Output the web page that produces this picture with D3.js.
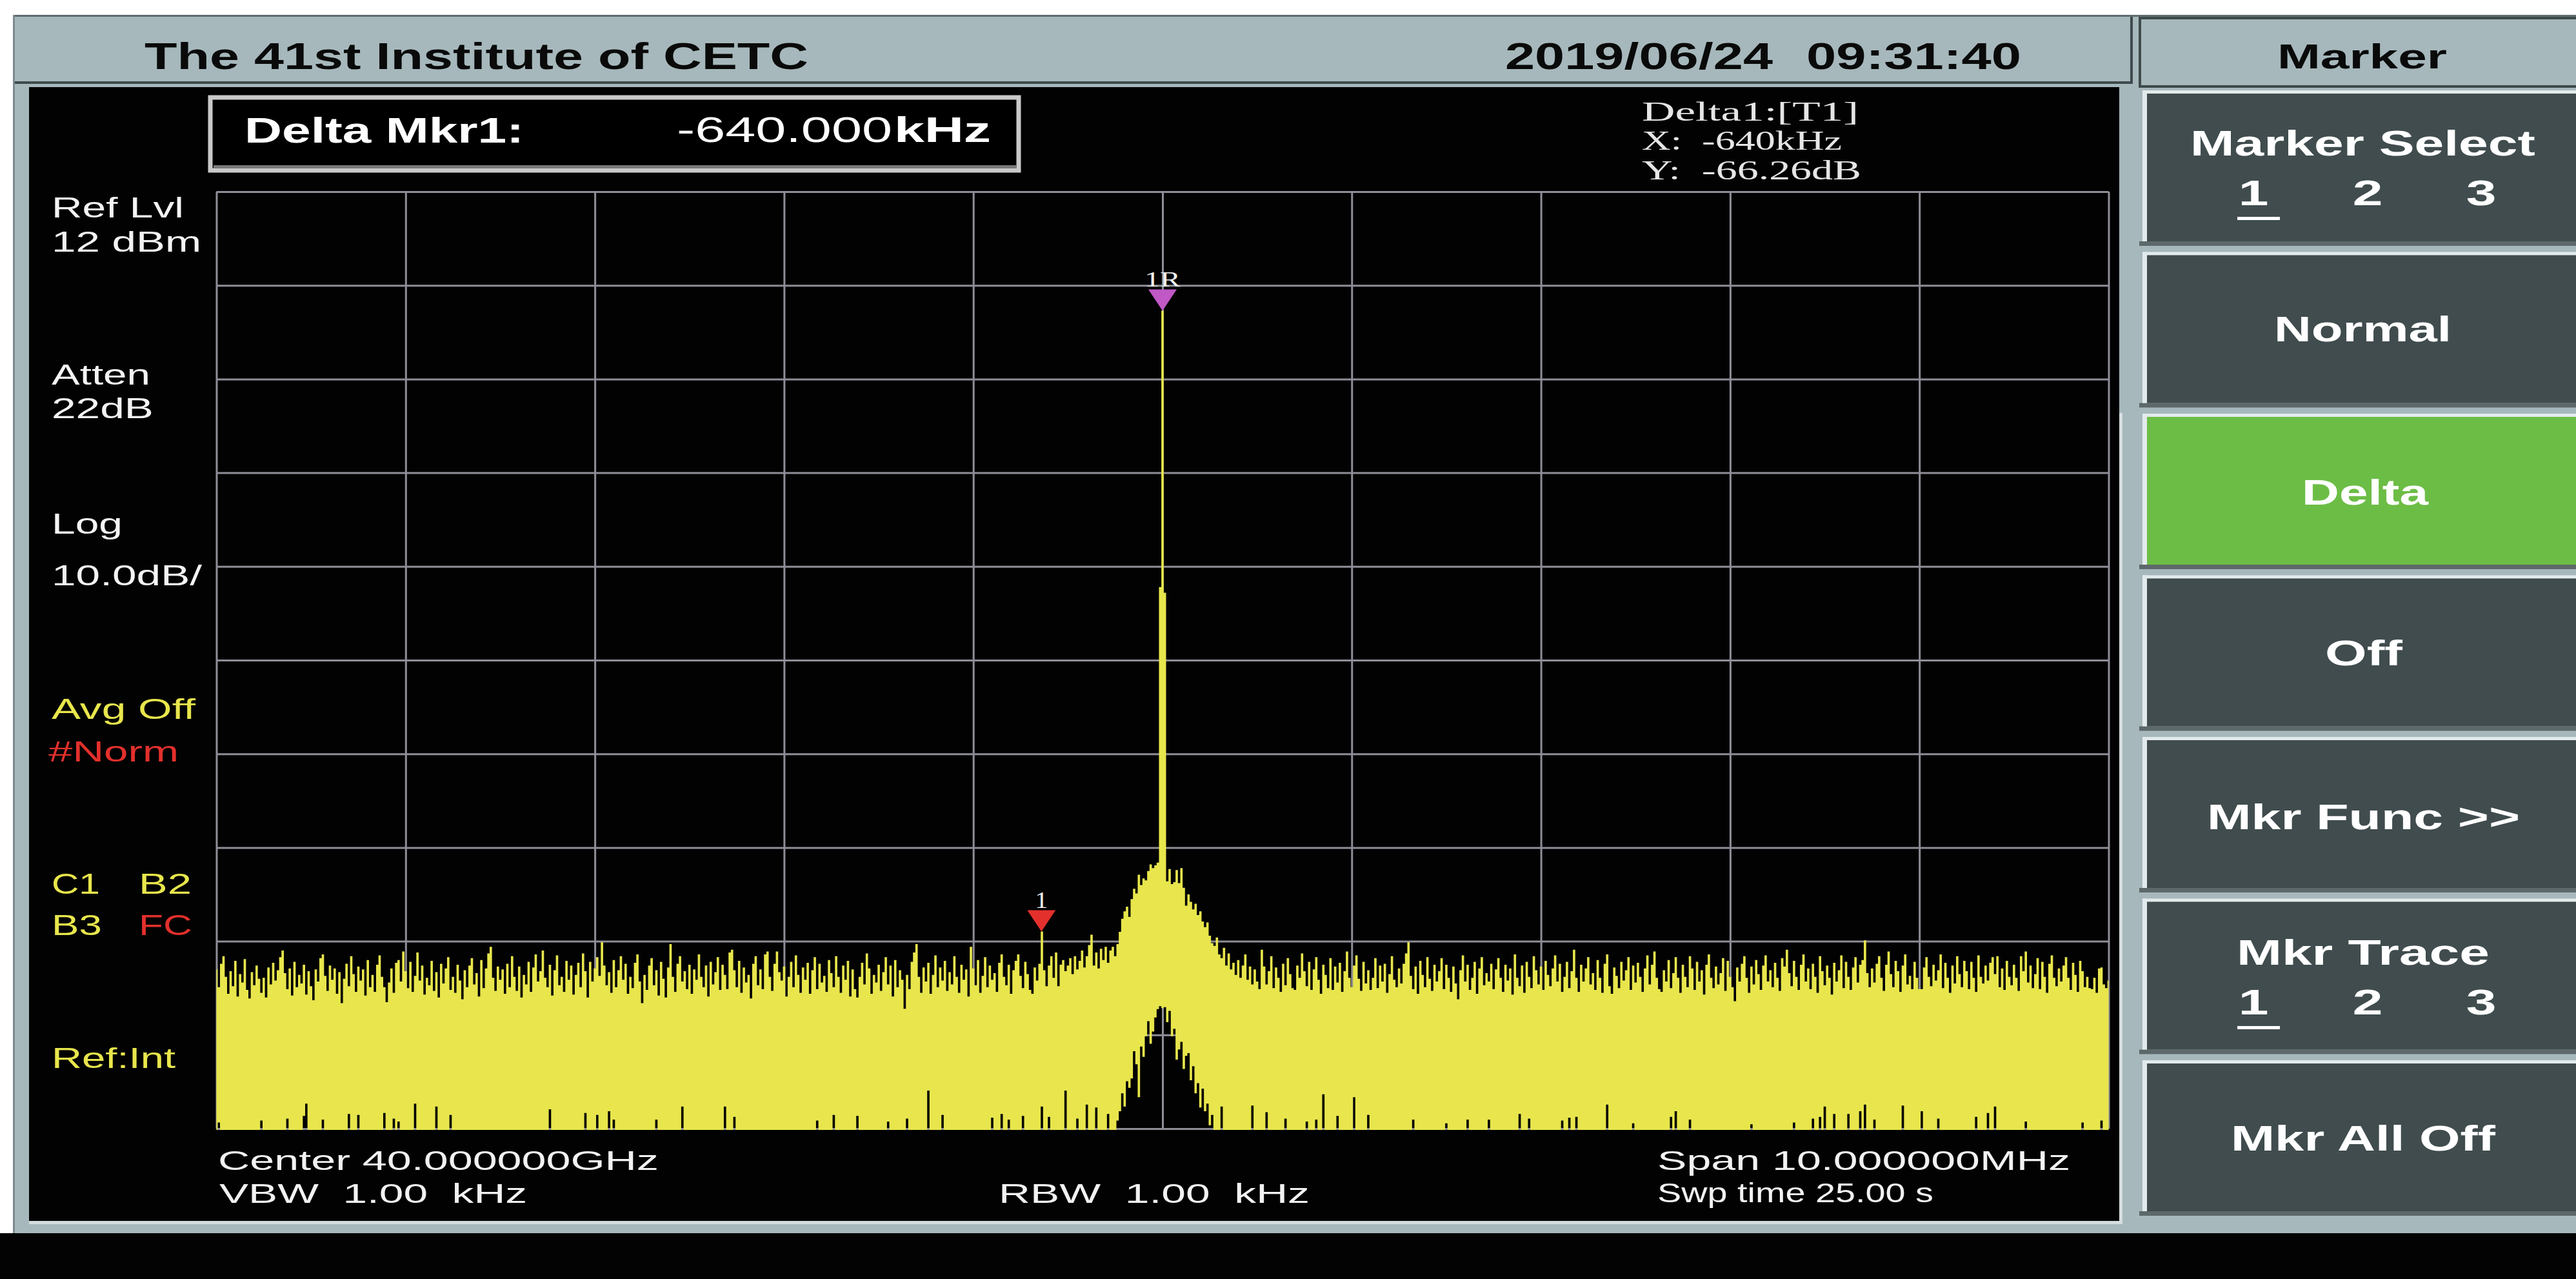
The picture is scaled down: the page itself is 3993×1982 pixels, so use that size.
<!DOCTYPE html>
<html><head><meta charset="utf-8">
<script src="https://cdn.jsdelivr.net/npm/d3@7/dist/d3.min.js"></script>
<style>html,body{margin:0;padding:0;background:#fff;overflow:hidden}svg{display:block}</style>
</head><body>
<svg id="chart" width="3993" height="1982"></svg>
<script>
// ---------------- DATA ----------------
const instrumentTitle = "The 41st Institute of CETC";
const dateStamp = "2019/06/24";
const timeStamp = "09:31:40";
const menuTitle = "Marker";
const softkeyLabels = ["Marker Select", "Normal", "Delta", "Off", "Mkr Func >>", "Mkr Trace", "Mkr All Off"];
const softkeyChoices = [["1", "2", "3"], null, null, null, null, ["1", "2", "3"], null];
const activeSoftkey = 2;
const deltaLabel = "Delta Mkr1:";
const deltaValue = "-640.000";
const deltaUnit = "kHz";
const readoutLines = ["Delta1:[T1]", "X:  -640kHz", "Y:  -66.26dB"];
const leftInfo = ["Ref Lvl", "12 dBm", "Atten", "22dB", "Log", "10.0dB/", "Avg Off", "#Norm", "C1", "B2", "B3", "FC", "Ref:Int"];
const bottomInfo = ["Center 40.000000GHz", "VBW  1.00  kHz", "RBW  1.00  kHz", "Span 10.000000MHz", "Swp time 25.00 s"];

const startFreqMHz = -5, stopFreqMHz = 5;
const refLevelDbm = 12, dbPerDiv = 10, numDivs = 10;

// trace maximum per display point (dBm), 801 points over the span
const traceMaxDbm = [
-71.0,-72.9,-70.4,-69.6,-71.8,-73.6,-71.2,-72.8,-70.1,-73.9,-71.5,-72.4,-69.9,-73.2,-74.1,-71.3,-72.7,-70.6,-72.0,-73.5,
-71.9,-74.0,-70.8,-72.6,-70.3,-72.2,-71.1,-69.7,-69.0,-71.4,-73.1,-70.9,-73.8,-70.2,-72.9,-71.6,-72.5,-70.5,-73.7,-71.2,
-72.8,-74.3,-71.0,-72.3,-69.8,-69.4,-71.7,-73.3,-70.6,-72.1,-70.9,-73.6,-71.3,-74.6,-72.0,-70.4,-72.8,-69.6,-71.5,-73.4,
-70.7,-72.2,-71.0,-73.8,-70.0,-72.9,-71.6,-73.4,-70.5,-69.5,-71.8,-72.9,-74.5,-72.4,-70.9,-73.5,-70.3,-70.0,-72.3,-69.1,
-71.2,-73.0,-70.2,-73.4,-71.7,-69.2,-72.2,-70.6,-73.7,-71.9,-72.7,-70.1,-73.3,-71.3,-74.0,-70.4,-72.5,-70.9,-69.7,-73.2,
-71.8,-73.5,-70.5,-72.2,-74.2,-71.1,-72.9,-70.6,-69.8,-72.6,-71.4,-73.9,-70.0,-73.0,-70.9,-69.3,-68.6,-71.9,-73.3,-70.7,
-72.1,-71.0,-73.6,-70.4,-72.9,-69.6,-71.8,-73.3,-70.7,-74.0,-71.6,-72.6,-70.2,-73.4,-70.8,-69.4,-72.3,-71.2,-69.0,-71.9,
-72.9,-70.5,-73.8,-71.1,-69.5,-72.7,-71.8,-73.4,-70.1,-72.1,-70.6,-73.7,-71.6,-70.3,-72.9,-69.3,-71.2,-74.0,-70.2,-72.3,
-70.9,-69.7,-71.7,-68.1,-70.6,-72.7,-71.3,-73.5,-70.0,-72.9,-71.1,-69.6,-72.1,-70.4,-73.6,-71.8,-73.0,-70.3,-69.4,-72.3,
-74.6,-71.6,-73.2,-70.6,-69.8,-72.7,-71.1,-73.8,-70.2,-72.0,-74.0,-70.8,-68.3,-71.8,-73.4,-70.4,-69.6,-72.3,-71.2,-73.1,
-70.5,-73.6,-71.0,-72.1,-69.4,-71.8,-72.9,-70.6,-73.9,-70.2,-72.6,-71.3,-69.7,-73.2,-70.5,-71.6,-73.1,-69.2,-68.9,-71.1,
-72.9,-70.1,-73.5,-70.8,-72.4,-71.6,-74.1,-70.4,-69.6,-72.7,-71.0,-73.1,-69.4,-69.1,-71.8,-73.3,-70.4,-69.1,-71.3,-72.2,
-70.7,-73.9,-71.8,-70.2,-72.9,-69.5,-71.6,-73.5,-70.8,-72.1,-70.3,-73.6,-71.1,-69.7,-73.1,-70.4,-72.4,-71.7,-73.4,-70.0,
-71.4,-72.9,-69.6,-71.8,-73.5,-70.6,-72.1,-70.1,-73.9,-71.0,-73.1,-74.0,-71.8,-70.3,-72.6,-69.3,-70.9,-73.6,-71.6,-72.4,
-70.5,-73.3,-71.3,-69.7,-72.6,-70.6,-73.9,-70.0,-72.9,-71.1,-72.1,-75.2,-71.6,-73.1,-70.2,-69.2,-68.3,-71.8,-73.5,-70.8,
-72.3,-70.3,-73.6,-71.6,-69.5,-72.9,-70.8,-72.2,-70.1,-73.3,-71.3,-72.6,-69.6,-71.8,-73.5,-70.5,-72.1,-71.0,-73.9,-68.6,
-70.9,-72.7,-70.0,-73.5,-71.7,-69.7,-72.9,-70.6,-72.1,-71.4,-73.4,-70.3,-69.4,-71.8,-72.7,-70.5,-73.6,-71.1,-70.1,-69.4,
-71.7,-73.0,-70.2,-71.5,-73.2,-73.6,-70.8,-72.2,-70.4,-66.96,-71.1,-72.8,-70.6,-69.6,-71.9,-69.2,-72.8,-70.5,-70.0,-71.2,
-70.6,-69.8,-71.5,-69.6,-71.0,-70.1,-69.0,-70.8,-69.6,-68.4,-67.3,-70.6,-69.2,-70.9,-68.8,-70.0,-68.6,-70.3,-69.0,-68.6,
-69.6,-68.3,-67.0,-65.6,-64.8,-64.3,-65.4,-63.5,-62.4,-62.9,-60.9,-62.0,-61.3,-61.5,-60.5,-59.8,-60.2,-59.9,-59.6,-30.2,
-0.7,-30.8,-61.6,-60.3,-61.9,-61.7,-60.4,-61.8,-60.2,-62.3,-64.2,-63.0,-63.8,-64.6,-64.0,-65.2,-64.8,-65.9,-66.5,-66.0,
-67.4,-68.2,-68.5,-67.6,-69.4,-69.8,-68.7,-70.6,-69.3,-71.0,-70.3,-71.6,-70.0,-71.9,-70.6,-69.4,-72.1,-70.7,-72.6,-71.0,
-72.3,-73.1,-68.9,-70.7,-72.6,-71.2,-69.6,-73.0,-70.8,-71.9,-73.4,-70.4,-72.7,-69.8,-71.5,-73.0,-73.2,-70.6,-71.9,-69.3,
-71.2,-72.8,-70.2,-73.2,-71.0,-69.7,-72.1,-73.6,-70.5,-71.6,-73.0,-69.8,-73.2,-70.7,-72.4,-70.3,-73.4,-71.2,-69.1,-71.9,
-72.9,-70.6,-69.5,-72.0,-73.3,-70.2,-72.5,-71.1,-73.2,-71.9,-69.8,-73.0,-70.6,-72.3,-70.4,-73.5,-71.5,-69.6,-72.1,-72.9,
-70.9,-72.5,-70.4,-69.3,-68.1,-71.7,-73.1,-70.7,-73.6,-70.1,-71.6,-72.9,-69.7,-72.0,-73.3,-70.5,-72.3,-71.2,-69.8,-73.1,
-70.5,-71.9,-73.4,-70.7,-72.5,-74.2,-71.1,-69.5,-72.3,-70.5,-73.2,-71.9,-70.2,-73.6,-70.9,-69.7,-72.7,-71.4,-72.3,-70.4,
-73.1,-71.0,-69.8,-71.9,-73.4,-70.5,-72.2,-70.9,-73.7,-69.4,-71.9,-72.8,-70.6,-73.5,-70.2,-71.8,-73.0,-69.6,-71.1,-72.6,
-70.7,-73.2,-70.1,-71.6,-72.8,-70.9,-69.5,-72.3,-70.4,-73.4,-71.8,-70.2,-73.0,-71.2,-68.9,-71.9,-73.4,-70.5,-72.3,-70.9,
-69.7,-72.6,-71.4,-73.2,-70.0,-71.9,-73.5,-70.4,-69.4,-72.8,-73.6,-70.8,-71.7,-73.0,-70.2,-72.2,-71.1,-69.7,-73.2,-70.6,
-72.4,-70.3,-71.8,-73.4,-70.9,-69.5,-72.6,-70.5,-69.1,-71.9,-73.1,-73.4,-71.1,-72.3,-70.0,-73.0,-71.4,-69.7,-71.9,-73.5,
-70.5,-71.8,-72.9,-69.6,-70.9,-73.2,-70.2,-72.3,-71.1,-73.7,-70.5,-69.4,-71.9,-73.0,-70.7,-72.6,-71.4,-69.8,-73.3,-70.1,
-71.8,-72.9,-74.4,-70.8,-72.3,-70.4,-69.6,-71.9,-73.5,-70.7,-72.6,-70.0,-71.5,-73.2,-70.6,-69.5,-72.3,-71.1,-72.9,-70.3,
-71.9,-73.3,-69.8,-70.7,-68.9,-71.4,-72.8,-70.1,-71.8,-73.2,-70.5,-69.4,-72.3,-70.9,-73.1,-70.4,-71.8,-73.5,-69.6,-71.2,
-72.7,-70.6,-71.9,-73.7,-70.3,-72.3,-71.1,-69.5,-73.0,-70.2,-71.8,-73.2,-70.8,-69.7,-72.4,-70.5,-70.0,-67.9,-71.4,-72.9,
-70.9,-72.4,-70.4,-69.6,-71.9,-73.3,-70.5,-69.1,-71.5,-72.9,-70.1,-71.2,-73.4,-70.6,-69.4,-72.6,-71.7,-73.1,-70.2,-71.9,
-73.1,-73.1,-70.8,-69.7,-71.8,-72.8,-70.5,-72.2,-71.1,-69.4,-73.0,-70.3,-71.9,-73.5,-70.6,-72.5,-69.6,-71.5,-72.9,-70.1,
-71.2,-73.1,-70.2,-71.9,-73.4,-69.5,-71.8,-72.5,-70.6,-72.2,-70.3,-69.7,-71.5,-69.6,-72.9,-70.9,-73.2,-70.1,-71.8,-72.7,
-70.5,-71.9,-73.3,-69.6,-71.2,-69.1,-72.4,-70.6,-73.0,-71.5,-69.8,-73.1,-70.2,-71.8,-73.5,-70.4,-69.5,-71.9,-72.8,-70.9,
-72.3,-70.6,-69.7,-71.9,-73.2,-70.3,-71.6,-73.4,-70.1,-71.2,-72.9,-71.8,-73.0,-73.1,-71.9,-73.5,-70.9,-70.8,-72.6,-73.0,
-72.2
];

// trace minimum where it lifts off the bottom of the screen: [point index, dBm]
const traceMinDbm = [
[1,-87.2],[19,-87.0],[30,-86.8],[37,-86.5],[38,-85.2],[45,-86.9],[56,-86.3],[60,-86.4],[71,-86.2],[75,-86.8],
[77,-87.1],[84,-85.2],[93,-85.5],[99,-86.4],[141,-85.8],[156,-86.2],[161,-86.4],[166,-86.0],[168,-86.9],[186,-86.9],
[197,-85.5],[215,-85.5],[219,-86.6],[254,-87.0],[261,-86.4],[271,-86.5],[284,-87.1],[292,-86.8],[301,-83.8],[307,-86.4],
[328,-86.7],[332,-86.3],[335,-86.9],[341,-86.5],[349,-85.5],[352,-86.6],[359,-83.8],[364,-86.8],[368,-85.3],[372,-85.6],
[377,-86.3],
[381,-87.0],[382,-86.0],[383,-84.1],[384,-85.5],[385,-82.8],[386,-83.5],[387,-82.5],[388,-79.6],[389,-81.0],[390,-84.5],
[391,-79.1],[392,-80.2],[393,-78.0],[394,-76.4],[395,-78.8],[396,-77.5],[397,-76.0],[398,-75.1],[399,-74.8],[400,-75.0],
[401,-74.9],[402,-76.5],[403,-75.3],[404,-78.0],[405,-77.2],[406,-80.5],[407,-79.4],[408,-78.6],[409,-81.5],[410,-80.1],
[411,-79.8],[412,-82.7],[413,-81.2],[414,-84.1],[415,-83.0],[416,-85.6],[417,-83.6],[418,-86.0],[419,-85.2],[420,-87.5],
[421,-86.4],
[425,-85.5],[438,-85.4],[444,-86.1],[452,-86.8],[461,-87.1],[465,-86.9],[468,-84.2],[474,-86.5],[481,-84.5],[487,-86.4],
[506,-86.9],[520,-87.3],[529,-86.9],[538,-86.9],[551,-86.3],[555,-86.8],[569,-87.0],[572,-86.7],[575,-86.6],[588,-85.3],
[599,-87.3],[615,-86.6],[617,-86.0],[623,-86.9],[649,-87.4],[667,-87.2],[675,-86.8],[678,-86.6],[680,-85.5],[684,-86.3],
[690,-86.3],[695,-86.0],[697,-85.3],[701,-86.9],[713,-85.4],[721,-86.0],[728,-86.8],[744,-86.6],[749,-86.2],[752,-85.5],
[765,-87.1],[789,-87.2],[797,-87.0]
];

const markerLabels = ["1R", "1"];
const markerFreqMHz = [0, -0.64];
const markerLevelDbm = [-0.70, -66.96];

// ---------------- DRAWING ----------------
const svg = d3.select("#chart");
const SANS = "'Liberation Sans', Arial, Helvetica, sans-serif";
const SERIF = "'Liberation Serif', 'Times New Roman', serif";
const FRAME = "#a6b8bc";
const WHITE = "#f4f4f4";
const YELLOW = "#e8e64c";
const RED = "#e3302c";

function label(g, str, x, y, size, o = {}) {
  const t = g.append("text").attr("x", x).attr("y", y)
    .attr("font-family", o.family || SANS)
    .attr("font-size", size)
    .attr("font-weight", o.weight || "normal")
    .attr("fill", o.fill || WHITE)
    .style("white-space", "pre")
    .text(str);
  if (o.width) t.attr("textLength", o.width).attr("lengthAdjust", "spacingAndGlyphs");
  if (o.anchor) t.attr("text-anchor", o.anchor);
  return t;
}
function stretched(g, str, cx, y, size, sx, o = {}) {
  return g.append("text")
    .attr("transform", `translate(${cx},${y}) scale(${sx},1)`)
    .attr("text-anchor", "middle")
    .attr("font-family", o.family || SANS)
    .attr("font-size", size)
    .attr("font-weight", o.weight || "normal")
    .attr("fill", o.fill || WHITE)
    .text(str);
}

// page background and instrument frame
svg.append("rect").attr("width", 3993).attr("height", 1982).attr("fill", "#ffffff");
svg.append("rect").attr("x", 20).attr("y", 23).attr("width", 3973).attr("height", 1889).attr("fill", FRAME);
svg.append("rect").attr("x", 20).attr("y", 23).attr("width", 3973).attr("height", 3).attr("fill", "#5f6b6e");
svg.append("rect").attr("x", 20).attr("y", 23).attr("width", 3).attr("height", 1889).attr("fill", "#7d8a8d");
svg.append("rect").attr("x", 0).attr("y", 1911).attr("width", 3993).attr("height", 71).attr("fill", "#030303");

// title bar
const titleG = svg.append("g");
titleG.append("rect").attr("x", 23).attr("y", 126).attr("width", 3281).attr("height", 4).attr("fill", "#3e4a4c");
titleG.append("rect").attr("x", 3302).attr("y", 26).attr("width", 4).attr("height", 104).attr("fill", "#3e4a4c");
titleG.append("rect").attr("x", 3315).attr("y", 26).attr("width", 678).attr("height", 4).attr("fill", "#3e4a4c");
titleG.append("rect").attr("x", 3315).attr("y", 26).attr("width", 4).attr("height", 109).attr("fill", "#3e4a4c");
titleG.append("rect").attr("x", 3315).attr("y", 132).attr("width", 678).attr("height", 4).attr("fill", "#3e4a4c");
label(titleG, instrumentTitle, 224, 107, 57, {weight: "bold", fill: "#0a0a0a", width: 1029});
label(titleG, dateStamp, 2333, 107, 57, {weight: "bold", fill: "#0a0a0a", width: 415});
label(titleG, timeStamp, 2800, 107, 57, {weight: "bold", fill: "#0a0a0a", width: 333});
label(titleG, menuTitle, 3530, 106, 54, {weight: "bold", fill: "#0a0a0a", width: 263});

// screen
const scr = svg.append("g");
scr.append("rect").attr("x", 45).attr("y", 135).attr("width", 3240).attr("height", 1757).attr("fill", "#020202");
scr.append("rect").attr("x", 45).attr("y", 1892).attr("width", 3245).attr("height", 5).attr("fill", "#d5dde0");
scr.append("rect").attr("x", 3285).attr("y", 640).attr("width", 5).attr("height", 1257).attr("fill", "#d5dde0");

// softkeys
const keys = svg.append("g");
softkeyLabels.forEach((s, i) => {
  const t = 145 + i * 250.5;
  keys.append("rect").attr("x", 3316).attr("y", t + 229).attr("width", 677).attr("height", 7).attr("fill", "#5d686a");
  keys.append("rect").attr("x", 3321).attr("y", t - 5).attr("width", 672).attr("height", 5).attr("fill", "#e3eaec");
  keys.append("rect").attr("x", 3321).attr("y", t - 5).attr("width", 7).attr("height", 234).attr("fill", "#e3eaec");
  keys.append("rect").attr("x", 3328).attr("y", t).attr("width", 665).attr("height", 229)
    .attr("fill", i === activeSoftkey ? "#6cbd45" : "#404c4e");
});
const keyText = [
  {x: 3395, w: 535, b: 241}, {x: 3525, w: 275, b: 529}, {x: 3568, w: 196, b: 782},
  {x: 3604, w: 120, b: 1031}, {x: 3421, w: 485, b: 1285}, {x: 3467, w: 392, b: 1495},
  {x: 3458, w: 410, b: 1783}
];
softkeyLabels.forEach((s, i) => {
  label(keys, s, keyText[i].x, keyText[i].b, 55, {weight: "bold", fill: "#ffffff", width: keyText[i].w});
  const ch = softkeyChoices[i];
  if (ch) {
    const b = keyText[i].b + 77;
    const cxs = [3493, 3670, 3846];
    ch.forEach((c, k) => stretched(keys, c, cxs[k], b, 56, 1.5, {weight: "bold", fill: "#ffffff"}));
    keys.append("rect").attr("x", 3468).attr("y", b + 18).attr("width", 66).attr("height", 5).attr("fill", "#ffffff");
  }
});

// delta marker box
const dbox = svg.append("g");
dbox.append("rect").attr("x", 326).attr("y", 151).attr("width", 1253).attr("height", 113)
  .attr("fill", "#000").attr("stroke", "#c9c9c9").attr("stroke-width", 7);
dbox.append("rect").attr("x", 331).attr("y", 256).attr("width", 1245).attr("height", 5).attr("fill", "#7a7a7a");
label(dbox, deltaLabel, 379, 221, 55, {weight: "bold", fill: "#ffffff", width: 433});
label(dbox, deltaValue, 1049, 220, 55, {fill: "#ffffff", width: 334});
label(dbox, deltaUnit, 1386, 220, 55, {weight: "bold", fill: "#ffffff", width: 150});

// marker readout
const ro = svg.append("g");
const roY = [187, 232, 278], roW = [336, 310, 340];
readoutLines.forEach((s, i) => label(ro, s, 2545, roY[i], 42, {family: SERIF, fill: "#e6e6e6", width: roW[i]}));

// left annotations
const leftLay = [
  {x: 80, b: 337, w: 205, c: WHITE}, {x: 80, b: 390, w: 232, c: WHITE},
  {x: 80, b: 596, w: 153, c: WHITE}, {x: 80, b: 648, w: 158, c: WHITE},
  {x: 80, b: 827, w: 110, c: WHITE}, {x: 80, b: 907, w: 233, c: WHITE},
  {x: 80, b: 1114, w: 223, c: YELLOW}, {x: 75, b: 1180, w: 202, c: RED},
  {x: 80, b: 1385, w: 75, c: YELLOW}, {x: 215, b: 1385, w: 82, c: YELLOW},
  {x: 80, b: 1449, w: 78, c: YELLOW}, {x: 215, b: 1449, w: 83, c: RED},
  {x: 80, b: 1655, w: 192, c: YELLOW}
];
const leftG = svg.append("g");
leftInfo.forEach((s, i) => label(leftG, s, leftLay[i].x, leftLay[i].b, 44, {fill: leftLay[i].c, width: leftLay[i].w}));

// bottom annotations
const botLay = [
  {x: 338, b: 1813, w: 683}, {x: 340, b: 1864, w: 477}, {x: 1548, b: 1864, w: 482},
  {x: 2569, b: 1813, w: 640}, {x: 2569, b: 1863, w: 428}
];
const botG = svg.append("g");
bottomInfo.forEach((s, i) => label(botG, s, botLay[i].x, botLay[i].b, 42, {fill: "#f2f2f2", width: botLay[i].w}));

// ---------------- PLOT ----------------
const plotL = 335.5, plotR = 3268.5, plotT = 297, plotB = 1749;
const x = d3.scaleLinear().domain([startFreqMHz, stopFreqMHz]).range([plotL, plotR]);
const y = d3.scaleLinear().domain([refLevelDbm - dbPerDiv * numDivs, refLevelDbm]).range([plotB, plotT]).clamp(true);

const xTicks = d3.range(numDivs + 1).map(k => startFreqMHz + k * (stopFreqMHz - startFreqMHz) / numDivs);
const yTicks = d3.range(numDivs + 1).map(k => refLevelDbm - k * dbPerDiv);

const plot = svg.append("g");
const GRID = "#8e8e98";
plot.append("g").attr("transform", `translate(0,${plotB})`)
  .call(d3.axisBottom(x).tickValues(xTicks).tickSize(0).tickFormat(""))
  .call(g => g.select(".domain").remove())
  .call(g => g.selectAll(".tick line").attr("stroke", GRID).attr("stroke-width", 3).attr("y2", -(plotB - plotT)));
plot.append("g").attr("transform", `translate(${plotL},0)`)
  .call(d3.axisLeft(y).tickValues(yTicks).tickSize(-(plotR - plotL)).tickSizeOuter(0).tickFormat(""))
  .call(g => g.select(".domain").remove())
  .call(g => g.selectAll(".tick line").attr("stroke", GRID).attr("stroke-width", 3));

svg.append("defs").append("clipPath").attr("id", "plotclip")
  .append("rect").attr("x", plotL - 2).attr("y", plotT - 2).attr("width", plotR - plotL + 4).attr("height", plotB - plotT + 4);

const N = traceMaxDbm.length;
const stepMHz = (stopFreqMHz - startFreqMHz) / (N - 1);
const minMap = new Map(traceMinDbm.map(d => [d[0], d[1]]));
const floorDbm = refLevelDbm - dbPerDiv * numDivs - 10;
const trace = traceMaxDbm.map((v, i) => ({f: startFreqMHz + i * stepMHz, max: v, min: minMap.has(i) ? minMap.get(i) : floorDbm}));

const area = d3.area().curve(d3.curveStep)
  .x(d => x(d.f)).y0(d => y(d.min) + 2).y1(d => y(d.max));
plot.append("path").datum(trace).attr("clip-path", "url(#plotclip)")
  .attr("d", area).attr("fill", YELLOW);

// markers
const mk = svg.append("g");
const mColors = ["#c058c6", "#e3302c"];
const mText = [{w: 56, s: 34, off: 37}, {w: 20, s: 36, off: 36}];
markerLabels.forEach((m, i) => {
  const cx = x(markerFreqMHz[i]), ty = y(markerLevelDbm[i]);
  mk.append("path").attr("d", `M${cx - 22},${ty - 33}L${cx + 22},${ty - 33}L${cx},${ty}Z`).attr("fill", mColors[i]);
  label(mk, m, cx - mText[i].w / 2, ty - mText[i].off, mText[i].s, {family: SERIF, fill: "#f0f0f0", width: mText[i].w});
});
</script>
</body></html>
